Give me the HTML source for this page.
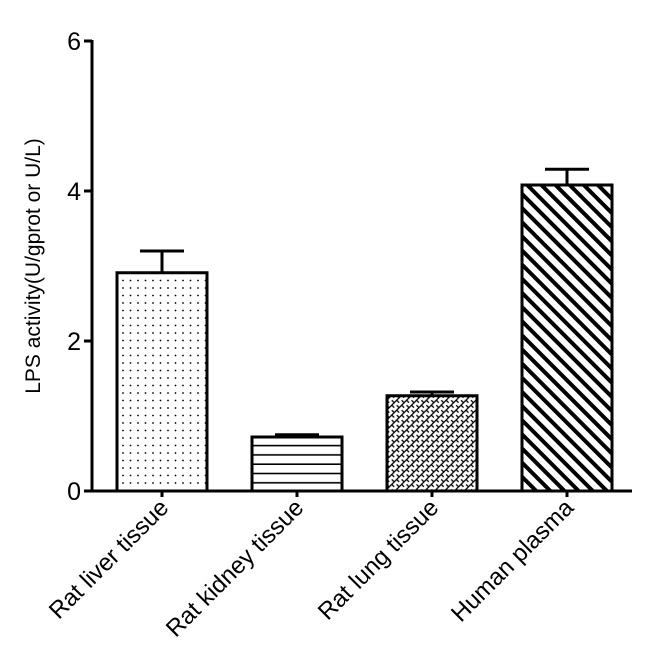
<!DOCTYPE html>
<html><head><meta charset="utf-8"><style>
html,body{margin:0;padding:0;background:#fff;}
svg{display:block;font-family:"Liberation Sans",Arial,sans-serif;}
</style></head><body>
<svg id="chart" width="650" height="668" viewBox="0 0 650 668">
<defs>
<pattern id="pDots" width="7.5" height="7.5" patternUnits="userSpaceOnUse"><rect width="7.5" height="7.5" fill="#fff"/><circle cx="3" cy="3" r="0.9" fill="#000"/></pattern>
<pattern id="pHoriz" width="10" height="9.3" patternUnits="userSpaceOnUse"><rect width="10" height="9.3" fill="#fff"/><line x1="0" y1="8.5" x2="10" y2="8.5" stroke="#000" stroke-width="1.6"/></pattern>
<pattern id="pBrick" width="7" height="7" patternUnits="userSpaceOnUse" patternTransform="rotate(-45)"><rect width="7" height="7" fill="#fff"/><line x1="0" y1="3.5" x2="7" y2="3.5" stroke="#000" stroke-width="1.3"/><line x1="1" y1="0" x2="1" y2="3.5" stroke="#000" stroke-width="1.3"/><line x1="4.5" y1="3.5" x2="4.5" y2="7" stroke="#000" stroke-width="1.3"/></pattern>
<pattern id="pDiag" width="10" height="10" patternUnits="userSpaceOnUse" patternTransform="rotate(-45)"><rect width="10" height="10" fill="#fff"/><rect x="0" y="0" width="4" height="10" fill="#000"/></pattern>
</defs>
<g id="plot"></g>
<text transform="translate(40,266) rotate(-90)" text-anchor="middle" font-size="21">LPS activity(U/gprot or U/L)</text>
</svg>
<script>
const categories=["Rat liver tissue","Rat kidney tissue","Rat lung tissue","Human plasma"];
const values=[2.91,0.72,1.27,4.08];
const errors=[0.29,0.03,0.05,0.21];
const yTicks=[0,2,4,6];
const fills=["url(#pDots)","url(#pHoriz)","url(#pBrick)","url(#pDiag)"];
const NS="http://www.w3.org/2000/svg";
const g=document.getElementById('plot');
const y0=491,pxPerUnit=75,axisX=92;
const y=v=>y0-v*pxPerUnit;
const xc=i=>162+i*135;
const bw=90;
function mk(t,a){const e=document.createElementNS(NS,t);for(const k in a)e.setAttribute(k,a[k]);g.appendChild(e);return e;}
let ax=mk('line',{x1:axisX,y1:y(6)-1,x2:axisX,y2:y0+1.5,stroke:'#000','stroke-width':3});


let bx=mk('line',{x1:axisX-8,y1:y0,x2:632,y2:y0,stroke:'#000','stroke-width':3});


yTicks.forEach(t=>{
 let tk=mk('line',{x1:axisX-8,y1:y(t),x2:axisX,y2:y(t),stroke:'#000','stroke-width':3});
 
 
 let tl=mk('text',{x:axisX-11,y:y(t)+9,'text-anchor':'end','font-size':25});
 tl.textContent=t;
 
 
});
categories.forEach((c,i)=>{
 const cx=xc(i),top=y(values[i]),et=y(values[i]+errors[i]);
 let el=mk('line',{x1:cx,y1:top,x2:cx,y2:et,stroke:'#000','stroke-width':3});
 
 
 let ec=mk('line',{x1:cx-22,y1:et,x2:cx+22,y2:et,stroke:'#000','stroke-width':3});
 
 
 let r=mk('rect',{x:cx-bw/2,y:top,width:bw,height:y0-top,fill:fills[i],stroke:'#000','stroke-width':3});
 
 
 let tk=mk('line',{x1:cx,y1:y0,x2:cx,y2:y0+6,stroke:'#000','stroke-width':3});
 
 
 let t=mk('text',{transform:`translate(${cx+8},${y0+18}) rotate(-45)`,'text-anchor':'end','font-size':24});
 t.textContent=c;
 
 
});
</script>
</body></html>
